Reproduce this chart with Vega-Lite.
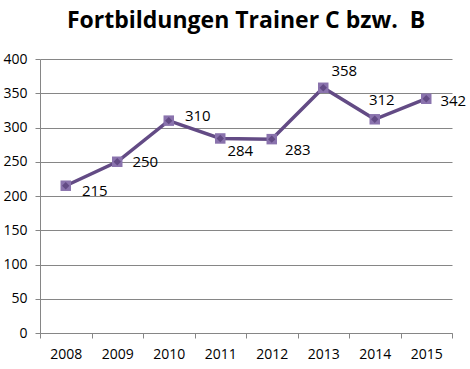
{
  "$schema": "https://vega.github.io/schema/vega-lite/v6.json",
  "width": 412,
  "height": 274,
  "autosize": {"type": "none"},
  "padding": {"left": 40, "top": 59, "right": 18, "bottom": 36},
  "background": "white",
  "title": {
    "text": "Fortbildungen Trainer C bzw.\u00a0\u00a0B",
    "font": "Open Sans",
    "fontSize": 23,
    "fontWeight": "bold",
    "color": "#000000",
    "anchor": "middle",
    "offset": 19
  },
  "data": {
    "values": [
      {"year": "2008", "value": 215},
      {"year": "2009", "value": 250},
      {"year": "2010", "value": 310},
      {"year": "2011", "value": 284},
      {"year": "2012", "value": 283},
      {"year": "2013", "value": 358},
      {"year": "2014", "value": 312},
      {"year": "2015", "value": 342}
    ]
  },
  "config": {
    "view": {"stroke": null},
    "axis": {
      "labelFont": "Open Sans",
      "labelFontSize": 14,
      "labelColor": "#000000",
      "domainColor": "#868686",
      "tickColor": "#868686",
      "gridColor": "#868686",
      "titleFontSize": 0
    }
  },
  "encoding": {
    "x": {
      "field": "year",
      "type": "ordinal",
      "scale": {"type": "band", "paddingInner": 0, "paddingOuter": 0},
      "axis": {
        "title": null,
        "labelAngle": 0,
        "tickBand": "extent",
        "tickSize": 5,
        "labelPadding": 9,
        "grid": false
      }
    },
    "y": {
      "field": "value",
      "type": "quantitative",
      "scale": {"domain": [0, 400]},
      "axis": {
        "title": null,
        "values": [0, 50, 100, 150, 200, 250, 300, 350, 400],
        "tickSize": 5,
        "labelPadding": 8,
        "grid": true,
        "gridWidth": 1
      }
    }
  },
  "layer": [
    {"mark": {"type": "line", "color": "#634b85", "strokeWidth": 3.5}},
    {"mark": {"type": "point", "shape": "square", "filled": true, "color": "#8a73ad", "size": 110, "opacity": 1}},
    {"mark": {"type": "point", "shape": "diamond", "filled": true, "color": "#634b85", "size": 55, "opacity": 1}},
    {"transform": [{"filter": "datum.year == '2008'"}], "mark": {"type": "text", "font": "Open Sans", "fontSize": 15, "color": "#000000", "dx": 29, "dy": 5}, "encoding": {"text": {"field": "value"}}},
    {"transform": [{"filter": "datum.year == '2009'"}], "mark": {"type": "text", "font": "Open Sans", "fontSize": 15, "color": "#000000", "dx": 28, "dy": 0}, "encoding": {"text": {"field": "value"}}},
    {"transform": [{"filter": "datum.year == '2010'"}], "mark": {"type": "text", "font": "Open Sans", "fontSize": 15, "color": "#000000", "dx": 29, "dy": -5}, "encoding": {"text": {"field": "value"}}},
    {"transform": [{"filter": "datum.year == '2011'"}], "mark": {"type": "text", "font": "Open Sans", "fontSize": 15, "color": "#000000", "dx": 20, "dy": 13}, "encoding": {"text": {"field": "value"}}},
    {"transform": [{"filter": "datum.year == '2012'"}], "mark": {"type": "text", "font": "Open Sans", "fontSize": 15, "color": "#000000", "dx": 26, "dy": 11}, "encoding": {"text": {"field": "value"}}},
    {"transform": [{"filter": "datum.year == '2013'"}], "mark": {"type": "text", "font": "Open Sans", "fontSize": 15, "color": "#000000", "dx": 21, "dy": -17}, "encoding": {"text": {"field": "value"}}},
    {"transform": [{"filter": "datum.year == '2014'"}], "mark": {"type": "text", "font": "Open Sans", "fontSize": 15, "color": "#000000", "dx": 7, "dy": -19}, "encoding": {"text": {"field": "value"}}},
    {"transform": [{"filter": "datum.year == '2015'"}], "mark": {"type": "text", "font": "Open Sans", "fontSize": 15, "color": "#000000", "dx": 27, "dy": 2}, "encoding": {"text": {"field": "value"}}}
  ]
}
